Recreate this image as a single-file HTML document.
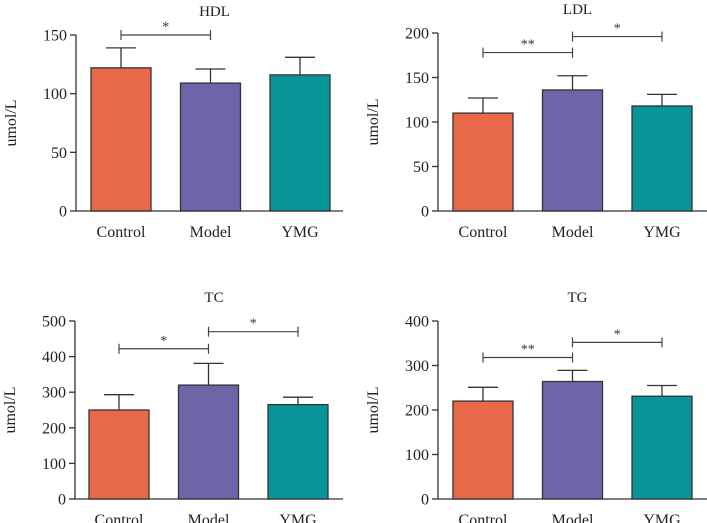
<!DOCTYPE html>
<html><head><meta charset="utf-8"><style>
html,body{margin:0;padding:0;background:#fff;}
svg{display:block;font-family:"Liberation Serif",serif;}
</style></head><body>
<svg id="chart" width="707" height="523" viewBox="0 0 707 523"></svg>
<script>
const categories = ["Control","Model","YMG"];
const colors = ["#E8684A","#6B66A8","#08959A"];
const hdlMeans = [122,109,116];
const hdlErrs = [139,121,131];
const hdlTicks = [0,50,100,150];
const ldlMeans = [110,136,118];
const ldlErrs = [127,152,131];
const ldlTicks = [0,50,100,150,200];
const tcMeans = [250,320,265];
const tcErrs = [293,381,286];
const tcTicks = [0,100,200,300,400,500];
const tgMeans = [220,264,231];
const tgErrs = [251,289,255];
const tgTicks = [0,100,200,300,400];
const hdlSig = [[0,1,150,"*"]];
const ldlSig = [[0,1,178,"**"],[1,2,196,"*"]];
const tcSig = [[0,1,422,"*"],[1,2,470,"*"]];
const tgSig = [[0,1,318,"**"],[1,2,352,"*"]];

const NS="http://www.w3.org/2000/svg";
const svg=document.getElementById('chart');
function mk(tag,attrs,parent){const e=document.createElementNS(NS,tag);for(const k in attrs)e.setAttribute(k,attrs[k]);(parent||svg).appendChild(e);return e;}

function panel(key,title,means,errs,ticks,sig,ax,top,bottom,xEnd,firstBar){
  const g=mk('g',{});
  
  
  const maxV=ticks[ticks.length-1];
  const y=v=>bottom-(v/maxV)*(bottom-top);
  const bw=60, step=89.5;
  const x=i=>firstBar+i*step;
  const t=mk('text',{x:(ax+xEnd)/2+5,y:top-19,'text-anchor':'middle','font-size':15,fill:'#222'},g);
  t.textContent=title;
  
  
  const yl=mk('text',{x:0,y:0,transform:`translate(${ax-60},${(top+bottom)/2}) rotate(-90)`,'text-anchor':'middle','font-size':16,fill:'#222'},g);
  yl.textContent='umol/L';
  
  
  mk('line',{x1:ax,y1:top,x2:ax,y2:bottom,stroke:'#333','stroke-width':1.3},g);
  mk('line',{x1:ax,y1:bottom,x2:xEnd,y2:bottom,stroke:'#333','stroke-width':1.3},g);
  ticks.forEach(v=>{
    mk('line',{x1:ax-6,y1:y(v),x2:ax,y2:y(v),stroke:'#333','stroke-width':1.3},g);
    const tl=mk('text',{x:ax-9,y:y(v)+5.5,'text-anchor':'end','font-size':16,fill:'#222'},g);
    tl.textContent=v;
    
    
  });
  means.forEach((m,i)=>{
    const cx=x(i)+bw/2;
    mk('line',{x1:cx,y1:y(m),x2:cx,y2:y(errs[i]),stroke:'#333','stroke-width':1.3},g);
    mk('line',{x1:cx-15,y1:y(errs[i]),x2:cx+15,y2:y(errs[i]),stroke:'#333','stroke-width':1.3},g);
    const r=mk('rect',{x:x(i),y:y(m),width:bw,height:bottom-y(m),fill:colors[i],stroke:'#333','stroke-width':1.3},g);
    
    
    const xl=mk('text',{x:cx,y:bottom+26,'text-anchor':'middle','font-size':16,fill:'#222'},g);
    xl.textContent=categories[i];
    
    
  });
  sig.forEach(s=>{
    const x1=x(s[0])+bw/2,x2=x(s[1])+bw/2,yy=y(s[2]);
    mk('line',{x1:x1,y1:yy,x2:x2,y2:yy,stroke:'#444','stroke-width':1.2},g);
    mk('line',{x1:x1,y1:yy-5,x2:x1,y2:yy+5,stroke:'#444','stroke-width':1.2},g);
    mk('line',{x1:x2,y1:yy-5,x2:x2,y2:yy+5,stroke:'#444','stroke-width':1.2},g);
    const st=mk('text',{x:(x1+x2)/2,y:yy-4,'text-anchor':'middle','font-size':14,fill:'#333'},g);
    st.textContent=s[3];
    
    
  });
}
panel('hdl','HDL',hdlMeans,hdlErrs,hdlTicks,hdlSig,76,35,211,343,91);
panel('ldl','LDL',ldlMeans,ldlErrs,ldlTicks,ldlSig,438,33,211,707,453);
panel('tc','TC',tcMeans,tcErrs,tcTicks,tcSig,75,321,499,343,89);
panel('tg','TG',tgMeans,tgErrs,tgTicks,tgSig,438,321,499,707,453);
</script>
</body></html>
